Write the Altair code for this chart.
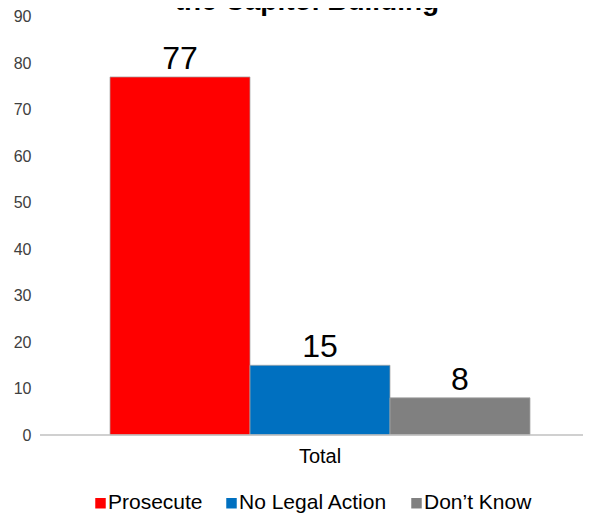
import altair as alt
import pandas as pd

title_text = "the Capitol Building"
group = "Total"
categories = ["Prosecute", "No Legal Action", "Don\u2019t Know"]
values = [77, 15, 8]
colors = ["#FF0000", "#0070C0", "#808080"]
y_ticks = [0, 10, 20, 30, 40, 50, 60, 70, 80, 90]

df = pd.DataFrame({"group": [group] * len(categories), "series": categories, "value": values})

FONT = "Liberation Sans"
W, H = 543, 418.5

x_enc = alt.X("group:N", title=None,
              scale=alt.Scale(domain=[group], range=[70, 490], paddingInner=0, paddingOuter=0),
              axis=alt.Axis(domain=False, ticks=False, grid=False, labelFontSize=20,
                            labelColor="#000000", labelPadding=11, labelAngle=0, labelFont=FONT))
xo_enc = alt.XOffset("series:N", sort=categories,
                     scale=alt.Scale(domain=categories, paddingInner=0, paddingOuter=0))
y_enc = alt.Y("value:Q", title=None,
              scale=alt.Scale(domain=[0, 90], nice=False),
              axis=alt.Axis(values=y_ticks, domain=False, ticks=False, grid=False,
                            labelFontSize=16, labelColor="#404040", labelPadding=9, labelFont=FONT))

base = alt.Chart(df)

bars = base.mark_bar(stroke="#a6a6a6", strokeWidth=0.75).encode(
    x=x_enc, xOffset=xo_enc, y=y_enc,
    color=alt.Color("series:N", sort=categories,
                    scale=alt.Scale(domain=categories, range=colors),
                    legend=alt.Legend(orient="none", legendX=50, legendY=476, direction="horizontal",
                                      title=None, symbolType="square", symbolSize=110,
                                      symbolStrokeWidth=0, labelFontSize=21, labelColor="#000000",
                                      labelFont=FONT, labelOffset={"expr": "-3"}, columnPadding=18,
                                      labelLimit=300)),
)

labels = base.mark_text(baseline="alphabetic", dy=-8, fontSize=32, color="#000000", font=FONT).encode(
    x=alt.X("group:N"), xOffset=alt.XOffset("series:N", sort=categories), y=alt.Y("value:Q"),
    text=alt.Text("value:Q"),
)

baseline = alt.Chart(pd.DataFrame({"v": [0]})).mark_rule(color="#c0c0c0", strokeWidth=1.5).encode(
    y=alt.Y("v:Q"), x=alt.value(0), x2=alt.value(W + 20)
)

title = alt.Chart(pd.DataFrame({"t": [title_text]})).mark_text(
    fontSize=28, fontWeight="bold", font=FONT, color="#000000", baseline="alphabetic", align="center"
).encode(text="t:N", x=alt.value(267), y=alt.value(-6.5))

chart = alt.layer(bars, baseline, labels, title).properties(
    width=W, height=H,
    autosize=alt.AutoSizeParams(type="none"),
    padding={"left": 32, "top": 8.5, "right": 0, "bottom": 78},
).configure_view(stroke=None)

chart.save("out.html", embed_options={"renderer": "svg", "actions": False})
